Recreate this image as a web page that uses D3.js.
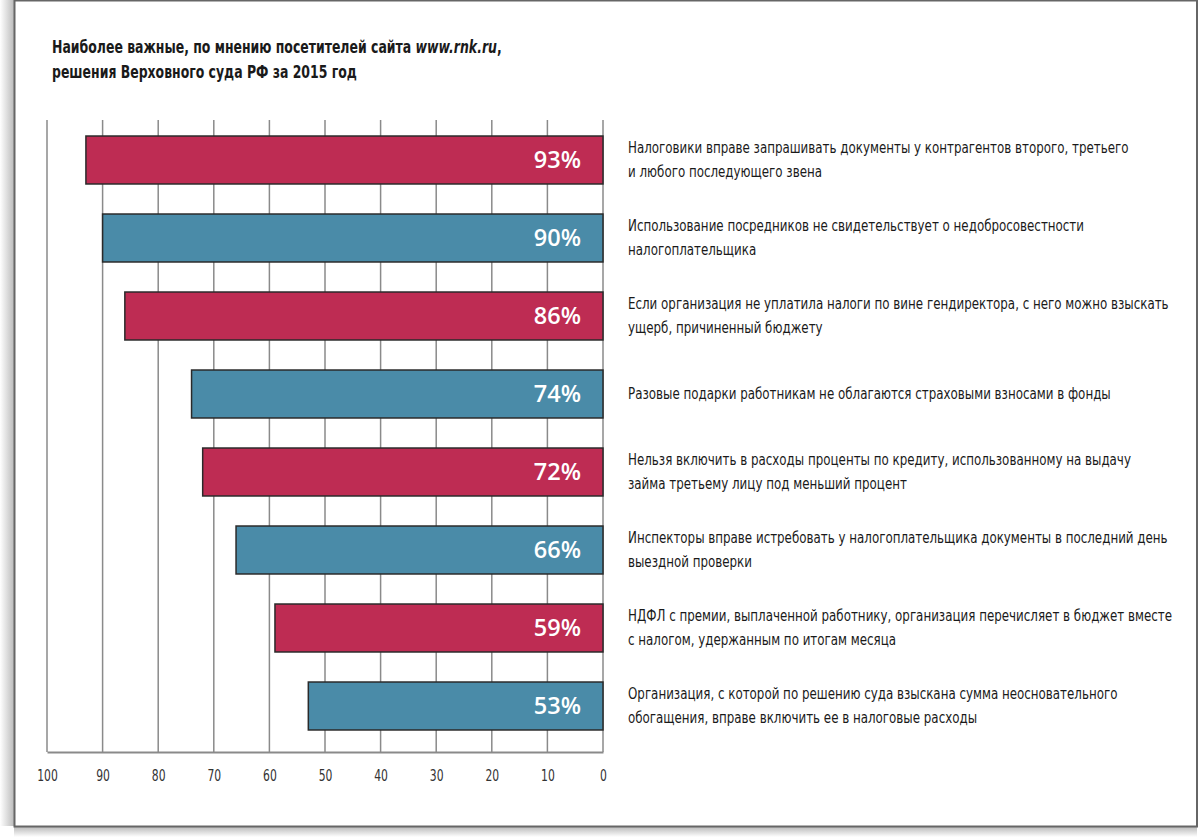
<!DOCTYPE html>
<html><head><meta charset="utf-8">
<script src="https://cdn.jsdelivr.net/npm/d3@7"></script>
<style>
html,body{margin:0;padding:0;background:#fff;}
svg{display:block;}
</style></head>
<body>
<svg id="chart" width="1200" height="837"></svg>
<script>
const titleLines = ["Наиболее важные, по мнению посетителей сайта ", "решения Верховного суда РФ за 2015 год"];
const titleSite = "www.rnk.ru";
const categories = [
  ["Налоговики вправе запрашивать документы у контрагентов второго, третьего", "и любого последующего звена"],
  ["Использование посредников не свидетельствует о недобросовестности", "налогоплательщика"],
  ["Если организация не уплатила налоги по вине гендиректора, с него можно взыскать", "ущерб, причиненный бюджету"],
  ["Разовые подарки работникам не облагаются страховыми взносами в фонды"],
  ["Нельзя включить в расходы проценты по кредиту, использованному на выдачу", "займа третьему лицу под меньший процент"],
  ["Инспекторы вправе истребовать у налогоплательщика документы в последний день", "выездной проверки"],
  ["НДФЛ с премии, выплаченной работнику, организация перечисляет в бюджет вместе", "с налогом, удержанным по итогам месяца"],
  ["Организация, с которой по решению суда взыскана сумма неосновательного", "обогащения, вправе включить ее в налоговые расходы"]
];
const values = [93, 90, 86, 74, 72, 66, 59, 53];
const tickValues = [100, 90, 80, 70, 60, 50, 40, 30, 20, 10, 0];
const barColors = ["#BE2C53", "#4A8BA8"];

const svg = d3.select("#chart");
const condensed = "'DejaVu Sans Condensed','DejaVu Sans',sans-serif";

// page frame with shadow
const defs = svg.append("defs");
const lg = defs.append("linearGradient").attr("id","shL").attr("x1","0").attr("x2","1").attr("y1","0").attr("y2","0");
lg.append("stop").attr("offset","0").attr("stop-color","#fff");
lg.append("stop").attr("offset","1").attr("stop-color","#bbb");
const bg = defs.append("linearGradient").attr("id","shB").attr("x1","0").attr("x2","0").attr("y1","0").attr("y2","1");
bg.append("stop").attr("offset","0").attr("stop-color","#bbb");
bg.append("stop").attr("offset","1").attr("stop-color","#fff");
svg.append("rect").attr("x",0).attr("y",0).attr("width",14).attr("height",826).attr("fill","url(#shL)");
svg.append("rect").attr("x",14).attr("y",827).attr("width",1183).attr("height",10).attr("fill","url(#shB)");
svg.append("rect").attr("x",14.5).attr("y",0.5).attr("width",1182.5).attr("height",826)
  .attr("fill","#fff").attr("stroke","#666").attr("stroke-width",2);

// title (horizontally condensed)
const tg = svg.append("g").attr("transform","translate(52,0) scale(0.77,1)");
const title = tg.append("text").attr("x",0).attr("y",53)
  .attr("font-family",condensed).attr("font-weight","bold").attr("font-size",18).attr("fill","#1a1a1a");
title.append("tspan").text(titleLines[0]);
title.append("tspan").attr("font-style","italic").text(titleSite);
title.append("tspan").text(",");
tg.append("text").attr("x",0).attr("y",78)
  .attr("font-family",condensed).attr("font-weight","bold").attr("font-size",18).attr("fill","#1a1a1a")
  .text(titleLines[1]);

const x = d3.scaleLinear().domain([100, 0]).range([47, 603]);
const y = d3.scaleBand().domain(d3.range(values.length)).range([121, 745]).paddingInner(0.385).paddingOuter(0.1925);
const gridTop = 120, gridBottom = 752;

// grid lines
svg.append("g").selectAll("line").data(tickValues).join("line")
  .attr("x1",d=>x(d)).attr("x2",d=>x(d)).attr("y1",gridTop).attr("y2",gridBottom)
  .attr("stroke","#8a8a8a").attr("stroke-width",1.5);

// axis
const axis = svg.append("g").attr("transform",`translate(0,${gridBottom})`)
  .call(d3.axisBottom(x).tickValues(tickValues).tickSize(0).tickPadding(18).tickFormat(d3.format("d")));
axis.select(".domain").attr("stroke","#8a8a8a").attr("stroke-width",1.8);
axis.selectAll("text").attr("font-family",condensed).attr("font-size",15).attr("fill","#333")
  .attr("transform","scale(0.8,1)");

// bars
svg.append("g").selectAll("rect").data(values).join("rect")
  .attr("x",d=>x(d)).attr("y",(d,i)=>y(i)).attr("width",d=>x(0)-x(d)).attr("height",y.bandwidth())
  .attr("fill",(d,i)=>barColors[i%2]).attr("stroke","#2a2a2a").attr("stroke-width",1.5);

// value labels
svg.append("g").selectAll("text").data(values).join("text")
  .attr("x",x(0)-22).attr("y",(d,i)=>y(i)+y.bandwidth()/2+8)
  .attr("text-anchor","end").attr("font-family","'Open Sans','DejaVu Sans',sans-serif")
  .attr("font-weight","600").attr("font-size",23.5).attr("fill","#fff")
  .text(d=>d+"%");

// category labels (horizontally condensed)
const lab = svg.append("g").attr("transform","translate(628,0) scale(0.8,1)")
  .selectAll("text").data(categories).join("text")
  .attr("font-family",condensed).attr("font-size",16.5).attr("fill","#1a1a1a");
lab.each(function(lines,i){
  const t = d3.select(this);
  const cy = y(i)+y.bandwidth()/2;
  const start = cy - (lines.length-1)*12 + 5;
  lines.forEach((l,k)=>{
    t.append("tspan").attr("x",0).attr("y",start+k*24).text(l);
  });
});
</script>
</body></html>
